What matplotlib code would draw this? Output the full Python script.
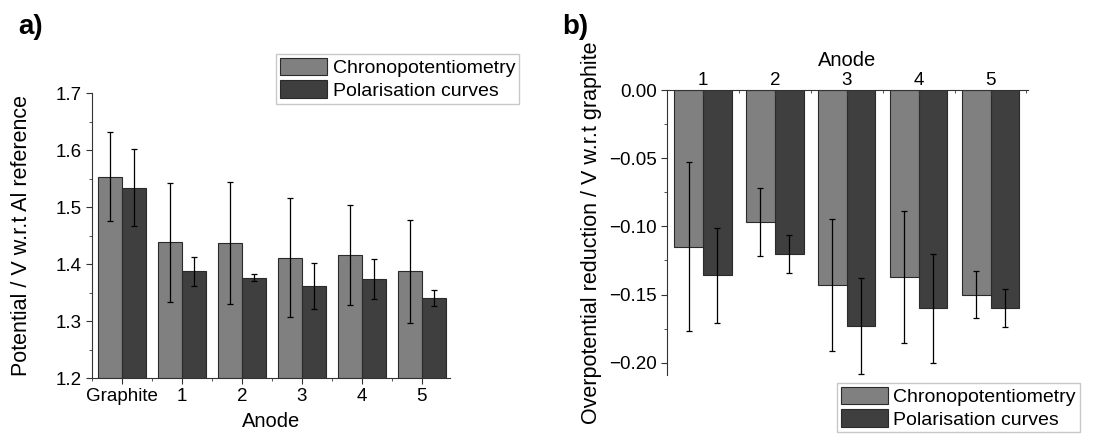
import numpy as np
import matplotlib
matplotlib.use("Agg")
import matplotlib.pyplot as plt
from matplotlib.ticker import MultipleLocator

plt.rcParams['font.family'] = ['Liberation Sans', 'DejaVu Sans']

# panel a) data
anodes_a = ["Graphite", "1", "2", "3", "4", "5"]
chrono_a = [1.553, 1.438, 1.437, 1.411, 1.416, 1.387]
chrono_a_err = [0.078, 0.105, 0.107, 0.104, 0.088, 0.091]
polar_a = [1.534, 1.387, 1.376, 1.361, 1.374, 1.341]
polar_a_err = [0.067, 0.025, 0.006, 0.040, 0.035, 0.014]

# panel b) data
anodes_b = ["1", "2", "3", "4", "5"]
chrono_b = [-0.115, -0.097, -0.143, -0.137, -0.150]
chrono_b_err = [0.062, 0.025, 0.0485, 0.0485, 0.0174]
polar_b = [-0.136, -0.120, -0.173, -0.160, -0.160]
polar_b_err = [0.035, 0.014, 0.035, 0.040, 0.014]

c_chrono = "#808080"
c_polar = "#3f3f3f"
edge = "#2a2a2a"
w = 0.4
err_kw = dict(ecolor="black", elinewidth=0.9, capsize=2.5, capthick=0.9)

fig = plt.figure(figsize=(11.14, 4.4), dpi=100)

# ---- a) ----
ax1 = fig.add_axes([0.0826, 0.1409, 0.3214, 0.6477])
x = np.arange(len(anodes_a))
b1 = ax1.bar(x - w/2, np.array(chrono_a) - 1.2, w, bottom=1.2, color=c_chrono,
             edgecolor=edge, linewidth=0.8, yerr=chrono_a_err, error_kw=err_kw,
             label="Chronopotentiometry")
b2 = ax1.bar(x + w/2, np.array(polar_a) - 1.2, w, bottom=1.2, color=c_polar,
             edgecolor=edge, linewidth=0.8, yerr=polar_a_err, error_kw=err_kw,
             label="Polarisation curves")
ax1.set_xlim(-0.5, 5.47)
ax1.set_ylim(1.2, 1.7)
ax1.set_xticks(x)
ax1.set_xticklabels(anodes_a)
ax1.xaxis.set_minor_locator(MultipleLocator(1, offset=0.5))
ax1.yaxis.set_major_locator(MultipleLocator(0.1))
ax1.yaxis.set_minor_locator(MultipleLocator(0.05))
ax1.spines['top'].set_visible(False)
ax1.spines['right'].set_visible(False)
for s in ['left', 'bottom']:
    ax1.spines[s].set_color("#333333")
ax1.tick_params(which='major', length=4, labelsize=13.5, color="#333333")
ax1.tick_params(which='minor', length=2, color="#333333")
ax1.set_xlabel("Anode", fontsize=14.5, labelpad=5)
ax1.set_ylabel("Potential / V w.r.t Al reference", fontsize=15.5, labelpad=17)
fig.legend(handles=[b1, b2], loc='upper right', bbox_to_anchor=(0.466, 0.877),
           fontsize=14, frameon=True, fancybox=False, edgecolor="#bbbbbb",
           handlelength=2.4, handleheight=1.0, labelspacing=0.15,
           borderpad=0.2, handletextpad=0.3, borderaxespad=0)
fig.text(0.016, 0.968, "a)", fontsize=20, fontweight='bold', va='top')

# ---- b) ----
ax2 = fig.add_axes([0.5987, 0.1477, 0.324, 0.6477])
xb = np.arange(1, len(anodes_b) + 1)
c1 = ax2.bar(xb - w/2, chrono_b, w, color=c_chrono, edgecolor=edge, linewidth=0.8,
             yerr=chrono_b_err, error_kw=err_kw, label="Chronopotentiometry")
c2 = ax2.bar(xb + w/2, polar_b, w, color=c_polar, edgecolor=edge, linewidth=0.8,
             yerr=polar_b_err, error_kw=err_kw, label="Polarisation curves")
ax2.set_xlim(0.5, 5.52)
ax2.set_ylim(-0.209, 0)
ax2.xaxis.tick_top()
ax2.xaxis.set_label_position('top')
ax2.set_xticks(xb)
ax2.set_xticklabels(anodes_b)
ax2.xaxis.set_minor_locator(MultipleLocator(1, offset=0.5))
ax2.yaxis.set_major_locator(MultipleLocator(0.05))
ax2.yaxis.set_minor_locator(MultipleLocator(0.025))
ax2.yaxis.set_major_formatter(
    plt.FuncFormatter(lambda v, p: f"{abs(v):.2f}" if abs(v) < 1e-9 else f"\u2212{abs(v):.2f}"))
ax2.spines['bottom'].set_visible(False)
ax2.spines['right'].set_visible(False)
for s in ['left', 'top']:
    ax2.spines[s].set_color("#333333")
ax2.tick_params(axis='x', which='both', direction='in', pad=1)
ax2.tick_params(which='major', length=4, labelsize=13.5, color="#333333")
ax2.tick_params(which='minor', length=2, color="#333333")
ax2.set_xlabel("Anode", fontsize=14.5, labelpad=4)
ax2.set_ylabel("Overpotential reduction / V w.r.t graphite", fontsize=15.5, labelpad=5)
fig.legend(handles=[c1, c2], loc='upper left', bbox_to_anchor=(0.7513, 0.1295),
           fontsize=14, frameon=True, fancybox=False, edgecolor="#bbbbbb",
           handlelength=2.4, handleheight=1.0, labelspacing=0.15,
           borderpad=0.2, handletextpad=0.3, borderaxespad=0)
fig.text(0.505, 0.968, "b)", fontsize=20, fontweight='bold', va='top')

fig.savefig("out.png", dpi=100)
